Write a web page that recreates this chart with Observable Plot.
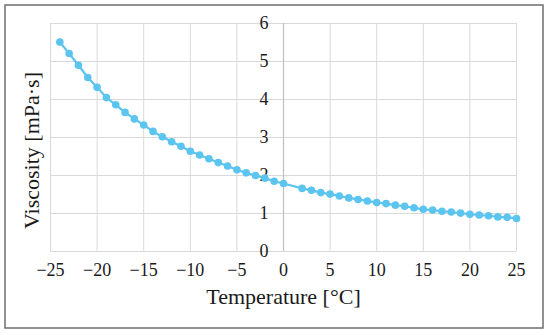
<!DOCTYPE html>
<html>
<head>
<meta charset="utf-8">
<script src="https://cdn.jsdelivr.net/npm/d3@7"></script>
<script src="https://cdn.jsdelivr.net/npm/@observablehq/plot@0.6"></script>
<style>
  html, body { margin: 0; padding: 0; background: #fff; }
  #chart svg { display: block; }
</style>
</head>
<body>
<div id="chart"></div>
<script>
const temperature = [-24,-23,-22,-21,-20,-19,-18,-17,-16,-15,-14,-13,-12,-11,-10,-9,-8,-7,-6,-5,-4,-3,-2,-1,0,
  2,3,4,5,6,7,8,9,10,11,12,13,14,15,16,17,18,19,20,21,22,23,24,25];
const viscosity = [5.51,5.21,4.90,4.58,4.32,4.05,3.86,3.66,3.49,3.33,3.16,3.02,2.89,2.77,2.64,2.54,2.44,2.34,2.25,2.15,2.07,2.00,1.93,1.85,1.79,
  1.66,1.61,1.55,1.51,1.46,1.41,1.37,1.33,1.29,1.26,1.22,1.19,1.15,1.11,1.09,1.06,1.04,1.01,0.98,0.96,0.94,0.91,0.90,0.87];
const xTicks = [-25,-20,-15,-10,-5,0,5,10,15,20,25];
const yTicks = [0,1,2,3,4,5,6];
const xLabel = "Temperature [°C]";
const yLabel = "Viscosity [mPa·s]";

const data = temperature.map((t, i) => ({t, v: viscosity[i]}));
const color = "#5bc4ef";
const fmt = d => d < 0 ? "\u2212" + Math.abs(d) : String(d);

const chart = Plot.plot({
  width: 550,
  height: 335,
  marginLeft: 50,
  marginRight: 34,
  marginTop: 23,
  marginBottom: 84,
  style: {fontFamily: "'Liberation Serif', serif", background: "#fff", color: "#1a1a1a"},
  x: {domain: [-25, 25], axis: null},
  y: {domain: [0, 6], axis: null},
  marks: [
    Plot.gridX(xTicks, {stroke: "#d9d9d9", strokeOpacity: 1, strokeWidth: 1}),
    Plot.gridY(yTicks, {stroke: "#d9d9d9", strokeOpacity: 1, strokeWidth: 1}),
    Plot.ruleX([0], {stroke: "#bfbfbf", strokeWidth: 1.2}),
    Plot.text(xTicks, {x: d => d, frameAnchor: "bottom", lineAnchor: "middle", dy: 19, text: fmt, fontSize: 18, fill: "#1a1a1a"}),
    Plot.text(yTicks, {x: 0, y: d => d, text: d => String(d), textAnchor: "end", dx: -15, fontSize: 18, fill: "#1a1a1a"}),
    Plot.line(data, {x: "t", y: "v", stroke: color, strokeWidth: 2.2}),
    Plot.dot(data, {x: "t", y: "v", r: 3.8, fill: color, stroke: "none"}),
    Plot.text([xLabel], {frameAnchor: "bottom", lineAnchor: "middle", textAnchor: "middle", dy: 45, text: d => d, fontSize: 22, fill: "#1a1a1a"}),
    Plot.text([yLabel], {frameAnchor: "left", textAnchor: "middle", lineAnchor: "middle", dx: -19, dy: 13, rotate: -90, text: d => d, fontSize: 22, fill: "#1a1a1a"})
  ]
});

d3.select(chart).append("rect")
  .attr("x", 5).attr("y", 5).attr("width", 538).attr("height", 323)
  .attr("fill", "none").attr("stroke", "#6e6e6e").attr("stroke-width", 1.5);

document.getElementById("chart").append(chart);
</script>
</body>
</html>
